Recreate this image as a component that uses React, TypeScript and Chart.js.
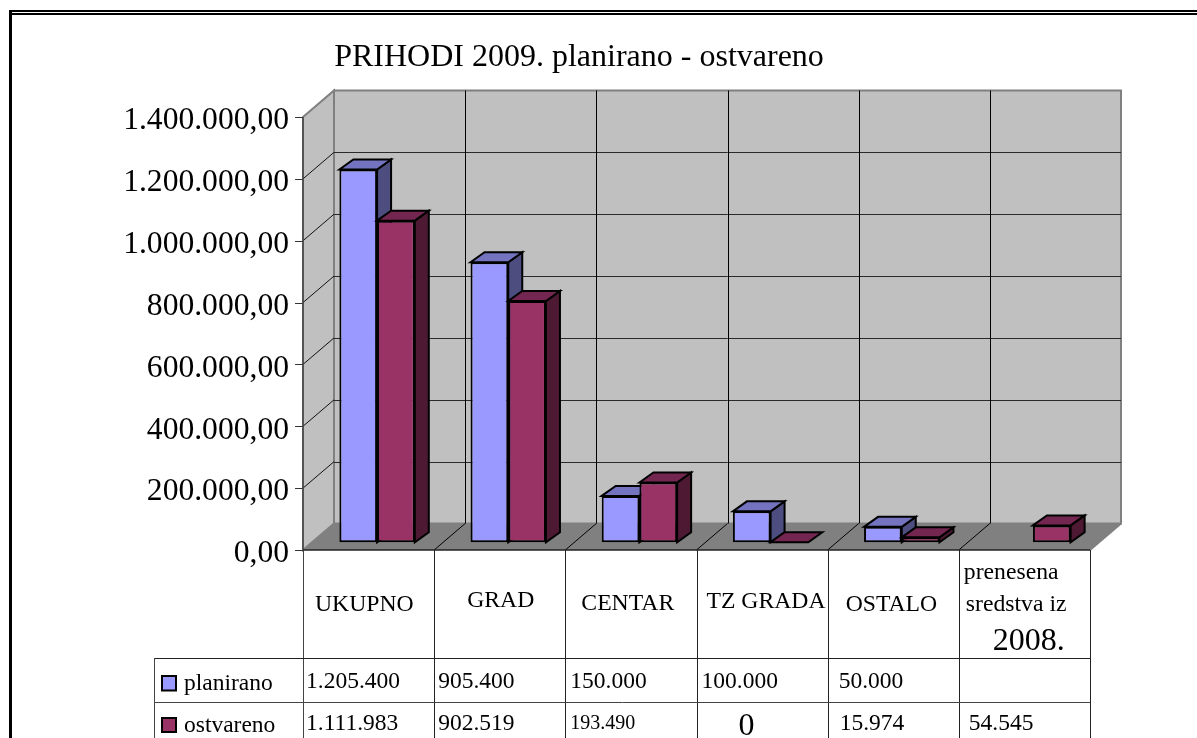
import React, { useEffect, useRef } from "react";
import { Chart, registerables } from "chart.js";

Chart.register(...registerables);

const CHART_TITLE = "PRIHODI 2009. planirano - ostvareno";
const categories = ["UKUPNO", "GRAD", "CENTAR", "TZ GRADA", "OSTALO", "prenesena sredstva iz 2008."];
const seriesNames = ["planirano", "ostvareno"];
const planirano = [1205400, 905400, 150000, 100000, 50000, null];
const ostvareno = [1040000, 780000, 193490, 0, 15974, 54545];
const planiranoCells = ["1.205.400", "905.400", "150.000", "100.000", "50.000", ""];
const ostvarenoCells = ["1.111.983", "902.519", "193.490", "0", "15.974", "54.545"];

const FONT = '"Liberation Serif"';
const FRONT = ["#9999FF", "#993366"];
const TOP = ["#7373BF", "#732650"];
const SIDE = ["#4D4D80", "#4D1933"];

// 3D projection, in pixels
const WALL_DX = 31;
const WALL_DY = -26.5;
const BAR_DX = 8.5;
const BAR_DY = -7.7;
const BAR_DEPTH_X = 14;
const BAR_DEPTH_Y = -10;

// Table layout
const ROW_1 = 658;
const ROW_2 = 702;
const headerLines: { col: number; dx: number; y: number; text: string; size: number }[][] = [
  [{ col: 0, dx: 12, y: 611, text: "UKUPNO", size: 23.7 }],
  [{ col: 1, dx: 33, y: 607, text: "GRAD", size: 23.7 }],
  [{ col: 2, dx: 16, y: 610, text: "CENTAR", size: 23.7 }],
  [{ col: 3, dx: 10, y: 608, text: "TZ GRADA", size: 23.7 }],
  [{ col: 4, dx: 18, y: 611, text: "OSTALO", size: 23.7 }],
  [
    { col: 5, dx: 5, y: 579, text: "prenesena", size: 23.7 },
    { col: 5, dx: 7, y: 611, text: "sredstva iz", size: 23.7 },
    { col: 5, dx: 34, y: 650, text: "2008.", size: 32 },
  ],
];
const row1Dx = [3, 4, 5, 5, 11, 0];
const row2Dx = [3, 4, 5, 42, 12, 10];
const row2Size = [23.5, 23.5, 20, 32, 23.5, 23.5];
const row2Base = [730, 730, 729, 735, 730, 730];

function formatTick(v: number): string {
  const s = String(Math.round(v)).replace(/\B(?=(\d{3})+(?!\d))/g, ".");
  return s + ",00";
}

function poly(ctx: CanvasRenderingContext2D, pts: number[][], fill: string | null, stroke: string | null, lw = 1) {
  ctx.beginPath();
  pts.forEach((p, i) => (i ? ctx.lineTo(p[0], p[1]) : ctx.moveTo(p[0], p[1])));
  ctx.closePath();
  if (fill) {
    ctx.fillStyle = fill;
    ctx.fill();
  }
  if (stroke) {
    ctx.strokeStyle = stroke;
    ctx.lineWidth = lw;
    ctx.lineJoin = "miter";
    ctx.stroke();
  }
}

function line(ctx: CanvasRenderingContext2D, x1: number, y1: number, x2: number, y2: number, color: string, lw = 1) {
  ctx.beginPath();
  ctx.moveTo(x1, y1);
  ctx.lineTo(x2, y2);
  ctx.strokeStyle = color;
  ctx.lineWidth = lw;
  ctx.stroke();
}

const crisp = (v: number) => Math.round(v) + 0.5;

const walls = {
  id: "walls",
  beforeDatasetsDraw(chart: any) {
    const { ctx } = chart;
    const yS = chart.scales.y;
    const xS = chart.scales.x;
    const L = xS.left;
    const R = xS.right;
    const T = yS.top;
    const B = yS.bottom;
    const n = categories.length;
    const w = (R - L) / n;
    ctx.save();
    poly(ctx, [[L + WALL_DX, T + WALL_DY], [R + WALL_DX, T + WALL_DY], [R + WALL_DX, B + WALL_DY], [L + WALL_DX, B + WALL_DY]], "#C0C0C0", "#808080", 2);
    poly(ctx, [[L, T], [L + WALL_DX, T + WALL_DY], [L + WALL_DX, B + WALL_DY], [L, B]], "#C0C0C0", "#808080", 2);
    poly(ctx, [[L, B], [L + WALL_DX, B + WALL_DY], [R + WALL_DX, B + WALL_DY], [R, B]], "#808080", null);
    line(ctx, R, B, R + WALL_DX, B + WALL_DY, "#808080", 2);
    for (const t of yS.ticks) {
      const y = yS.getPixelForValue(t.value);
      if (t.value > 0 && t.value < yS.max) {
        line(ctx, L, y, L + WALL_DX, y + WALL_DY, "#111111", 1);
        const by = crisp(y + WALL_DY);
        line(ctx, L + WALL_DX, by, R + WALL_DX, by, "#2a2a2a", 1);
      }
      line(ctx, L - 8, crisp(y), L, crisp(y), "#333333", 1);
    }
    for (let i = 1; i < n; i++) {
      const x = L + i * w;
      const bx = crisp(x + WALL_DX);
      line(ctx, bx, T + WALL_DY, bx, B + WALL_DY, "#000000", 1);
      line(ctx, x, B, x + WALL_DX, B + WALL_DY, "#000000", 1);
    }
    line(ctx, L, T, L, B, "#444444", 1.5);
    line(ctx, L, B, R, B, "#222222", 1.5);
    ctx.restore();
  },
};

function drawBarDepth(chart: any, idx: number) {
  const { ctx } = chart;
  const meta = chart.getDatasetMeta(idx);
  const values = chart.data.datasets[idx].data;
  meta.data.forEach((el: any, i: number) => {
    if (values[i] === null) return;
    const x0 = el.x - el.width / 2;
    const x1 = el.x + el.width / 2;
    const top = el.y;
    const base = el.base;
    const dx = BAR_DEPTH_X;
    const dy = BAR_DEPTH_Y;
    if (base - top > 0.5) {
      poly(ctx, [[x1, top], [x1 + dx, top + dy], [x1 + dx, base + dy], [x1, base]], SIDE[idx], "#000000", 2);
    }
    poly(ctx, [[x0, top], [x0 + dx, top + dy], [x1 + dx, top + dy], [x1, top]], TOP[idx], "#000000", 2);
  });
}

// The library paints the right-hand series first; the box look needs the left one first,
// so each series is painted here, left to right, through its own controller.
const bars3d = {
  id: "bars3d",
  beforeDatasetDraw() {
    return false;
  },
  afterDatasetsDraw(chart: any) {
    const { ctx } = chart;
    [0, 1].forEach((idx) => {
      ctx.save();
      ctx.translate(BAR_DX, BAR_DY);
      drawBarDepth(chart, idx);
      chart.getDatasetMeta(idx).controller.draw();
      ctx.restore();
    });
  },
};

const frameAndTable = {
  id: "frameAndTable",
  afterDraw(chart: any) {
    const { ctx } = chart;
    const xS = chart.scales.x;
    const L = xS.left;
    const w = (xS.right - L) / categories.length;
    const H = chart.height;
    const B = chart.scales.y.bottom;
    ctx.save();
    // outer frame
    ctx.fillStyle = "#000000";
    ctx.fillRect(9, 10, chart.width - 9, 2);
    ctx.fillRect(9, 13, chart.width - 9, 2);
    ctx.fillRect(9, 10, 3, H - 10);
    // grid of the data table
    for (let i = 0; i <= categories.length; i++) {
      const x = Math.round(L + i * w) + 0.5;
      line(ctx, x, B, x, H, i === 0 ? "#444444" : "#222222", 1);
    }
    line(ctx, 154, ROW_1 + 0.5, xS.right, ROW_1 + 0.5, "#222222", 1);
    line(ctx, 155, ROW_2 + 0.5, xS.right, ROW_2 + 0.5, "#444444", 1);
    line(ctx, 154.5, ROW_1, 154.5, H, "#444444", 1);
    // legend keys
    poly(ctx, [[162, 676], [176, 676], [176, 690.5], [162, 690.5]], FRONT[0], "#000000", 2);
    poly(ctx, [[162, 718], [176, 718], [176, 732], [162, 732]], FRONT[1], "#000000", 2);
    ctx.fillStyle = "#000000";
    ctx.textAlign = "left";
    ctx.textBaseline = "alphabetic";
    ctx.font = `23.5px ${FONT}`;
    ctx.fillText(seriesNames[0], 184, 690);
    ctx.fillText(seriesNames[1], 184, 732);
    // header cells
    for (const cell of headerLines) {
      for (const t of cell) {
        ctx.font = `${t.size}px ${FONT}`;
        ctx.fillText(t.text, L + t.col * w + t.dx, t.y);
      }
    }
    // value cells
    planiranoCells.forEach((s, i) => {
      ctx.font = `23.5px ${FONT}`;
      ctx.fillText(s, L + i * w + row1Dx[i], 688);
    });
    ostvarenoCells.forEach((s, i) => {
      ctx.font = `${row2Size[i]}px ${FONT}`;
      ctx.fillText(s, L + i * w + row2Dx[i], row2Base[i]);
    });
    ctx.restore();
  },
};

export default function App() {
  const ref = useRef<HTMLCanvasElement | null>(null);
  useEffect(() => {
    const chart = new Chart(ref.current as HTMLCanvasElement, {
      type: "bar",
      data: {
        labels: categories,
        datasets: [
          {
            label: seriesNames[0],
            data: planirano,
            backgroundColor: FRONT[0],
            borderColor: "#000000",
            borderWidth: 2,
            borderSkipped: false,
            clip: false,
            categoryPercentage: 0.575,
            barPercentage: 1,
          },
          {
            label: seriesNames[1],
            data: ostvareno,
            backgroundColor: FRONT[1],
            borderColor: "#000000",
            borderWidth: 2,
            borderSkipped: false,
            clip: false,
            categoryPercentage: 0.575,
            barPercentage: 1,
          },
        ] as any,
      },
      options: {
        responsive: false,
        animation: false,
        devicePixelRatio: 1,
        layout: { padding: { left: 68, right: 107, top: 0, bottom: 0 } },
        plugins: {
          legend: { display: false },
          tooltip: { enabled: false },
          title: {
            display: true,
            text: CHART_TITLE,
            color: "#000000",
            font: { family: FONT, size: 32, weight: "normal", lineHeight: 1.2 },
            padding: { top: 38, bottom: 40.6 },
          },
        },
        scales: {
          x: {
            display: true,
            grid: { display: false, drawTicks: false },
            border: { display: false },
            ticks: { display: false },
            afterFit: (s: any) => {
              s.height = 188;
            },
          },
          y: {
            min: 0,
            max: 1400000,
            grid: { display: false, drawTicks: false },
            border: { display: false },
            ticks: {
              stepSize: 200000,
              padding: 14,
              labelOffset: 4,
              color: "#000000",
              font: { family: FONT, size: 31.6 },
              callback: (v: any) => formatTick(Number(v)),
            },
            afterFit: (s: any) => {
              s.width = 235;
            },
          },
        },
      },
      plugins: [walls, bars3d, frameAndTable],
    } as any);
    return () => chart.destroy();
  }, []);
  return (
    <div style={{ position: "absolute", left: 0, top: 0, width: 1197, height: 738, background: "#fff" }}>
      <canvas ref={ref} width={1197} height={738} style={{ display: "block" }} />
    </div>
  );
}
